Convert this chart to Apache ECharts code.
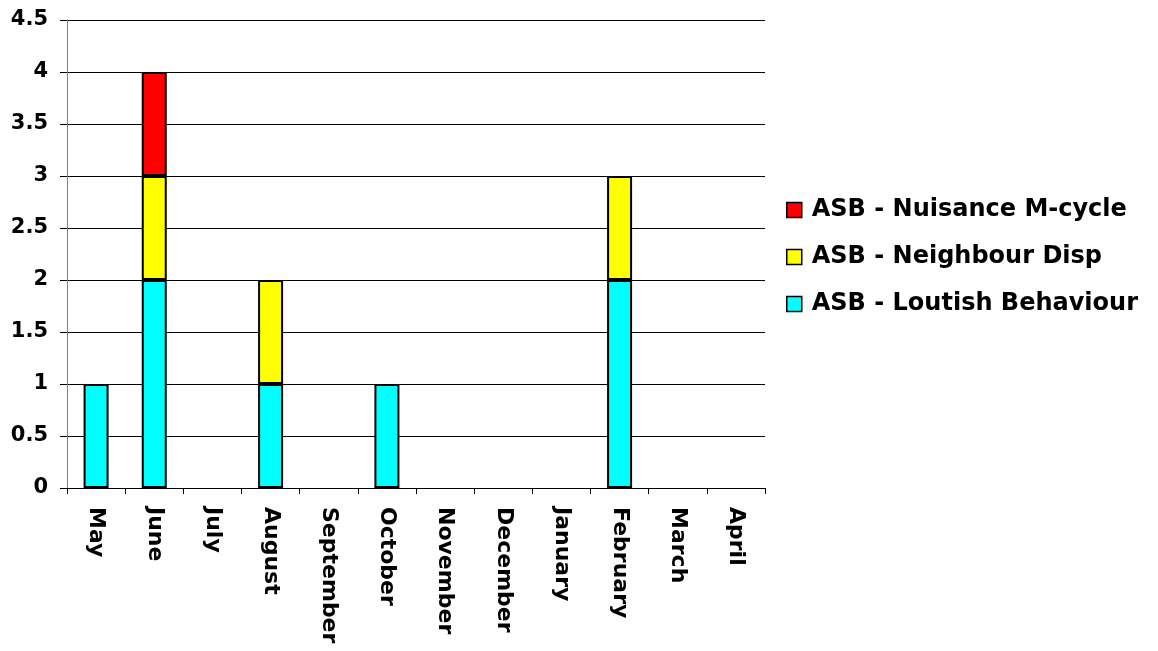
<!DOCTYPE html>
<html><head><meta charset="utf-8">
<script src="https://cdn.jsdelivr.net/npm/echarts@6/dist/echarts.min.js"></script>
<style>html,body{margin:0;padding:0;background:#fff}#c{width:1158px;height:651px}</style>
</head><body><div id="c"></div>
<script>
var categories = ['May','June','July','August','September','October','November','December','January','February','March','April'];
var loutish = [1,2,0,1,0,1,0,0,0,2,0,0];
var neighbour = [0,1,0,1,0,0,0,0,0,1,0,0];
var nuisance = [0,1,0,0,0,0,0,0,0,0,0,0];
var yTicks = [0,0.5,1,1.5,2,2.5,3,3.5,4,4.5];

function nz(a){return a.map(function(v){return v===0?null:v;});}
var font = 'DejaVu Sans, sans-serif';
function bar(name, data, color){
  return {name:name, type:'bar', stack:'s', data:nz(data), barWidth:25,
    itemStyle:{color:color, borderColor:'#000', borderWidth:2}};
}
var chart = echarts.init(document.getElementById('c'));
chart.setOption({
  animation:false,
  grid:{left:67,right:393,top:20,bottom:163},
  legend:{orient:'vertical', left:781, top:193, itemGap:23, itemWidth:15, itemHeight:15, icon:'rect',
    data:['ASB - Nuisance M-cycle','ASB - Neighbour Disp','ASB - Loutish Behaviour'],
    textStyle:{fontFamily:font, fontWeight:'bold', fontSize:24, lineHeight:24, color:'#000', padding:[0,0,0,5]},
    itemStyle:{borderColor:'#000', borderWidth:1.5}},
  xAxis:{type:'category', data:categories,
    axisLine:{lineStyle:{color:'#000', width:1}},
    axisTick:{show:true, length:6, lineStyle:{color:'#000'}},
    axisLabel:{rotate:-90, margin:19, interval:0, fontFamily:font, fontWeight:'bold', fontSize:22, color:'#000'}},
  yAxis:{type:'value', min:0, max:4.5, interval:0.5,
    axisLine:{show:true, lineStyle:{color:'#808080'}},
    axisTick:{show:true, length:7, lineStyle:{color:'#000'}},
    splitLine:{lineStyle:{color:'#000', width:1}},
    axisLabel:{margin:19, fontFamily:font, fontWeight:'bold', fontSize:21, color:'#000',
      formatter:function(v){return String(v);}}},
  series:[
    bar('ASB - Loutish Behaviour', loutish, '#00FFFF'),
    bar('ASB - Neighbour Disp', neighbour, '#FFFF00'),
    bar('ASB - Nuisance M-cycle', nuisance, '#FF0000')
  ]
});
</script></body></html>
